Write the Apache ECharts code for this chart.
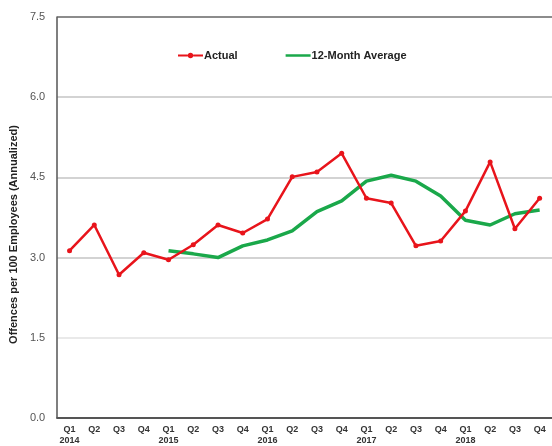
<!DOCTYPE html>
<html><head><meta charset="utf-8">
<script src="https://cdn.jsdelivr.net/npm/echarts@6/dist/echarts.min.js"></script>
<style>html,body{margin:0;padding:0;background:#fff}#c{width:552px;height:446px}</style>
</head><body><div id="c"></div>
<script>
const categories = ['Q1\n2014','Q2','Q3','Q4','Q1\n2015','Q2','Q3','Q4','Q1\n2016','Q2','Q3','Q4','Q1\n2017','Q2','Q3','Q4','Q1\n2018','Q2','Q3','Q4'];
const actual = [3.13,3.61,2.68,3.09,2.96,3.24,3.61,3.46,3.72,4.51,4.60,4.95,4.11,4.02,3.22,3.31,3.87,4.79,3.54,4.11];
const avg12 = [null,null,null,null,3.13,3.07,3.00,3.22,3.33,3.50,3.86,4.06,4.43,4.54,4.43,4.15,3.70,3.61,3.82,3.89];
const yTicks = [0,1.5,3.0,4.5,6.0,7.5];

const chart = echarts.init(document.getElementById('c'));
chart.setOption({
  animation:false,
  grid:{left:57,right:-4,top:17,bottom:26},
  legend:{
    top:45,left:173,itemGap:48,itemWidth:25,itemHeight:10,
    textStyle:{fontFamily:'Liberation Sans',fontWeight:'bold',fontSize:11,color:'#222',padding:[0,0,0,-4]},
    data:[{name:'Actual',icon:'path://M0,3.8 L11,3.8 L11,6.2 L0,6.2 Z M17,3.8 L28,3.8 L28,6.2 L17,6.2 Z M14,2 A3,3 0 0 1 14,8 A3,3 0 0 1 14,2 Z'},{name:'12-Month Average',icon:'path://M0,3.6 L28,3.6 L28,6.4 L0,6.4 Z'}]
  },
  xAxis:{type:'category',data:categories,boundaryGap:true,
    axisLine:{lineStyle:{color:'#555',width:2}},axisTick:{show:false},
    axisLabel:{interval:0,fontFamily:'Liberation Sans',fontWeight:'bold',fontSize:9,color:'#333',lineHeight:11,margin:6}},
  yAxis:{type:'value',min:0,max:7.5,interval:1.5,
    name:'Offences per 100 Employees (Annualized)',nameLocation:'middle',nameGap:37,
    nameTextStyle:{fontFamily:'Liberation Sans',fontWeight:'bold',fontSize:11,color:'#222',padding:[0,0,0,-34]},
    axisLine:{show:true,lineStyle:{color:'#555',width:1.5}},axisTick:{show:false},
    axisLabel:{fontFamily:'Liberation Sans',fontSize:11,color:'#555',margin:12,formatter:v=>v.toFixed(1)},
    splitLine:{lineStyle:{color:['#555','#e2e2e2','#c4c4c4','#c4c4c4','#c4c4c4','#666'],width:1.5}}},
  series:[
    {name:'Actual',type:'line',data:actual,color:'#e8141b',lineStyle:{width:2.5,color:'#e8141b'},
     symbol:'circle',symbolSize:5,itemStyle:{color:'#e8141b'},z:3},
    {name:'12-Month Average',type:'line',data:avg12,color:'#1aa84a',lineStyle:{width:3.5,color:'#1aa84a'},
     symbol:'none',connectNulls:false,z:2}
  ]
});
</script></body></html>
